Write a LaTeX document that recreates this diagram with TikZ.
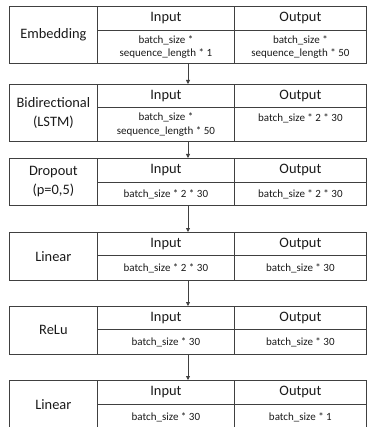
\documentclass[tikz,border=0pt]{standalone}
\usepackage{fontspec}
\setmainfont{Carlito}
\usetikzlibrary{arrows.meta}
\definecolor{linec}{HTML}{404040}
\definecolor{txt}{HTML}{1A1A1A}
\begin{document}
\begin{tikzpicture}[x=1pt,y=-1pt,
  cell/.style={draw=linec, line width=0.8pt, rectangle, inner sep=0pt, anchor=north west, align=center, text=txt},
  lab/.style={cell, minimum width=88pt, font=\fontsize{14.4}{19}\selectfont},
  hin/.style={cell, minimum width=137pt, font=\fontsize{14.4}{17}\selectfont},
  hout/.style={cell, minimum width=132pt, font=\fontsize{14.4}{17}\selectfont},
  bin/.style={cell, minimum width=137pt, font=\fontsize{11}{13.5}\selectfont},
  bout/.style={cell, minimum width=132pt, font=\fontsize{11}{13.5}\selectfont},
  arr/.style={draw=linec, line width=0.8pt, -{Triangle[width=4pt,length=4pt]}}]
\useasboundingbox (0,0) rectangle (367,427);
\clip (0,0) rectangle (367,427);
\coordinate (ax) at (188,0);
% Table 1
\node[lab, minimum height=57pt] (L1) at (9,6) {Embedding};
\node[hin, minimum height=24pt] (IH1) at (97,6) {Input};
\node[hout, minimum height=24pt] (OH1) at (234,6) {Output};
\node[bin, minimum height=33pt] (IB1) at (97,30) {batch\_size *\\sequence\_length * 1};
\node[bout, minimum height=33pt] (OB1) at (234,30) {batch\_size *\\sequence\_length * 50};
% Table 2
\node[lab, minimum height=57pt] (L2) at (9,84) {Bidirectional\\(LSTM)};
\node[hin, minimum height=23pt] (IH2) at (97,84) {Input};
\node[hout, minimum height=23pt] (OH2) at (234,84) {Output};
\node[bin, minimum height=34pt] (IB2) at (97,107) {batch\_size *\\sequence\_length * 50};
\node[bout, minimum height=34pt] (OB2) at (234,107) {batch\_size * 2 * 30\\\phantom{x}};
% Table 3
\node[lab, minimum height=47pt] (L3) at (9,158) {Dropout\\(p=0,5)};
\node[hin, minimum height=24pt] (IH3) at (97,158) {Input};
\node[hout, minimum height=24pt] (OH3) at (234,158) {Output};
\node[bin, minimum height=23pt] (IB3) at (97,182) {batch\_size * 2 * 30};
\node[bout, minimum height=23pt] (OB3) at (234,182) {batch\_size * 2 * 30};
% Table 4
\node[lab, minimum height=48pt] (L4) at (9,232) {Linear};
\node[hin, minimum height=23pt] (IH4) at (97,232) {Input};
\node[hout, minimum height=23pt] (OH4) at (234,232) {Output};
\node[bin, minimum height=25pt] (IB4) at (97,255) {batch\_size * 2 * 30};
\node[bout, minimum height=25pt] (OB4) at (234,255) {batch\_size * 30};
% Table 5
\node[lab, minimum height=48pt] (L5) at (9,306) {ReLu};
\node[hin, minimum height=23pt] (IH5) at (97,306) {Input};
\node[hout, minimum height=23pt] (OH5) at (234,306) {Output};
\node[bin, minimum height=25pt] (IB5) at (97,329) {batch\_size * 30};
\node[bout, minimum height=25pt] (OB5) at (234,329) {batch\_size * 30};
% Table 6
\node[lab, minimum height=49pt] (L6) at (9,380) {Linear};
\node[hin, minimum height=24pt] (IH6) at (97,380) {Input};
\node[hout, minimum height=24pt] (OH6) at (234,380) {Output};
\node[bin, minimum height=25pt] (IB6) at (97,404) {batch\_size * 30};
\node[bout, minimum height=25pt] (OB6) at (234,404) {batch\_size * 1};
% Arrows
\draw[arr] (IB1.south -| ax) -- (IH2.north -| ax);
\draw[arr] (IB2.south -| ax) -- (IH3.north -| ax);
\draw[arr] (IB3.south -| ax) -- (IH4.north -| ax);
\draw[arr] (IB4.south -| ax) -- (IH5.north -| ax);
\draw[arr] (IB5.south -| ax) -- (IH6.north -| ax);
\end{tikzpicture}
\end{document}
